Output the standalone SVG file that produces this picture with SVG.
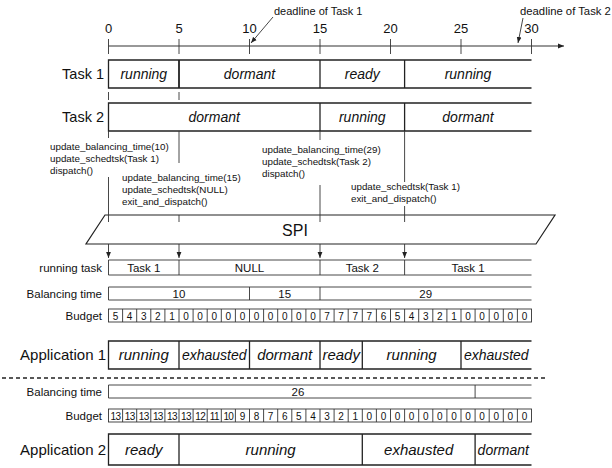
<svg xmlns="http://www.w3.org/2000/svg" width="612" height="468" viewBox="0 0 612 468">
<defs>
<marker id="ah" viewBox="0 0 10 10" refX="10" refY="5" markerWidth="6" markerHeight="6" orient="auto-start-reverse" markerUnits="userSpaceOnUse">
<path d="M0,1 L10,5 L0,9 z" fill="#222"/>
</marker>
<style>
text{font-family:"Liberation Sans",Arial,sans-serif;fill:#111}
.lbl{font-size:14.5px}
.app{font-size:15px}
.st{font-size:14px;font-style:italic;text-anchor:middle}
.st15{font-size:15px;font-style:italic;text-anchor:middle}
.sm{font-size:11.5px}
.c{text-anchor:middle}
.e{text-anchor:end}
.code{font-size:9.8px}
.num{font-size:10px;text-anchor:middle}
.ax{font-size:13px;text-anchor:middle}
.row{fill:none;stroke:#222;stroke-width:1.3}
.div{stroke:#222;stroke-width:1.3}
.thin{stroke:#333;stroke-width:0.9;fill:none}
.guide{stroke:#333;stroke-width:0.9}
.cell{fill:none;stroke:#333;stroke-width:0.9}
</style>
</defs>

<g id="axis">
<line class="thin" x1="108.5" y1="46" x2="564" y2="46" marker-end="url(#ah)" style="stroke-width:1.1"/>
<g class="guide">
<line x1="108.5" y1="39" x2="108.5" y2="54"/>
<line x1="179" y1="39" x2="179" y2="54"/>
<line x1="249.5" y1="39" x2="249.5" y2="54"/>
<line x1="320" y1="39" x2="320" y2="54"/>
<line x1="390.5" y1="39" x2="390.5" y2="54"/>
<line x1="461" y1="39" x2="461" y2="54"/>
<line x1="531.5" y1="39" x2="531.5" y2="54"/>
</g>
<text class="ax" x="108.5" y="33">0</text>
<text class="ax" x="179" y="33">5</text>
<text class="ax" x="249.5" y="33">10</text>
<text class="ax" x="320" y="33">15</text>
<text class="ax" x="390.5" y="33">20</text>
<text class="ax" x="461" y="33">25</text>
<text class="ax" x="531.5" y="33">30</text>
</g>

<g id="deadline1">
<text class="sm" x="274" y="15" style="font-size:11px">deadline of Task 1</text>
<line class="thin" x1="273" y1="17" x2="251" y2="43" marker-end="url(#ah)"/>
</g>
<g id="deadline2">
<text class="sm" x="520" y="15" style="font-size:11.3px">deadline of Task 2</text>
<line class="thin" x1="523" y1="18" x2="518" y2="43" marker-end="url(#ah)"/>
</g>

<g id="task1">
<text class="lbl e" x="104" y="79">Task 1</text>
<path class="row" d="M531.5,60 H108.5 V88 H531.5"/>
<line class="div" x1="179" y1="60" x2="179" y2="88" style="stroke-width:1.8"/>
<line class="div" x1="320" y1="60" x2="320" y2="88"/>
<line class="div" x1="404.6" y1="60" x2="404.6" y2="88"/>
<text class="st" x="143.8" y="79">running</text>
<text class="st" x="249.5" y="79">dormant</text>
<text class="st" x="362.3" y="79">ready</text>
<text class="st" x="468" y="79">running</text>
</g>

<g id="task2">
<text class="lbl e" x="104" y="122">Task 2</text>
<path class="row" d="M531.5,103 H108.5 V131 H531.5"/>
<line class="div" x1="320" y1="103" x2="320" y2="131"/>
<line class="div" x1="404.6" y1="103" x2="404.6" y2="131"/>
<text class="st" x="214.2" y="122">dormant</text>
<text class="st" x="362.3" y="122">running</text>
<text class="st" x="468" y="122">dormant</text>
</g>

<g id="calls1">
<text class="code" x="50" y="149.5">update_balancing_time(10)</text>
<text class="code" x="50" y="161.5">update_schedtsk(Task 1)</text>
<text class="code" x="50" y="173.5">dispatch()</text>
</g>
<g id="calls2">
<text class="code" x="122" y="181">update_balancing_time(15)</text>
<text class="code" x="122" y="193">update_schedtsk(NULL)</text>
<text class="code" x="122" y="205">exit_and_dispatch()</text>
</g>
<g id="calls3">
<text class="code" x="262" y="153">update_balancing_time(29)</text>
<text class="code" x="262" y="165">update_schedtsk(Task 2)</text>
<text class="code" x="262" y="177">dispatch()</text>
</g>
<g id="calls4">
<text class="code" x="351" y="190">update_schedtsk(Task 1)</text>
<text class="code" x="351" y="202">exit_and_dispatch()</text>
</g>

<g id="spi">
<path class="row" d="M105,215 H555 L536,244 H86 Z" style="stroke-width:1.2"/>
<text class="c" x="295" y="236" style="font-size:16px">SPI</text>
</g>

<g id="connectors">
<g class="guide">
<line x1="108.5" y1="92" x2="108.5" y2="100"/>
<line x1="179" y1="92" x2="179" y2="100"/>
<line x1="108.5" y1="131" x2="108.5" y2="138"/>
<line x1="108.5" y1="177" x2="108.5" y2="222"/>
<line x1="179" y1="131" x2="179" y2="163"/>
<line x1="179" y1="215" x2="179" y2="222"/>
<line x1="320" y1="131" x2="320" y2="140"/>
<line x1="320" y1="185" x2="320" y2="222"/>
<line x1="404.6" y1="131" x2="404.6" y2="182"/>
<line x1="404.6" y1="206" x2="404.6" y2="222"/>
</g>
<g class="thin">
<line x1="108.5" y1="244" x2="108.5" y2="258" marker-end="url(#ah)"/>
<line x1="179" y1="244" x2="179" y2="258" marker-end="url(#ah)"/>
<line x1="320" y1="244" x2="320" y2="258" marker-end="url(#ah)"/>
<line x1="404.6" y1="244" x2="404.6" y2="258" marker-end="url(#ah)"/>
</g>
</g>

<g id="running-task">
<text class="sm e" x="102" y="272">running task</text>
<path class="thin" d="M531.5,260 H108.5 V275 H531.5"/>
<line class="guide" x1="179" y1="260" x2="179" y2="275"/>
<line class="guide" x1="320" y1="260" x2="320" y2="275"/>
<line class="guide" x1="404.6" y1="260" x2="404.6" y2="275"/>
<text class="sm c" x="143.8" y="272">Task 1</text>
<text class="sm c" x="249.5" y="272">NULL</text>
<text class="sm c" x="362.3" y="272">Task 2</text>
<text class="sm c" x="468" y="272">Task 1</text>
</g>

<g id="balancing1">
<text class="sm e" x="102" y="298">Balancing time</text>
<path class="thin" d="M531.5,287 H108.5 V300 H531.5"/>
<line class="guide" x1="249.5" y1="287" x2="249.5" y2="300"/>
<line class="guide" x1="320" y1="287" x2="320" y2="300"/>
<text class="sm c" x="179" y="298">10</text>
<text class="sm c" x="284.7" y="298">15</text>
<text class="sm c" x="425.7" y="298">29</text>
</g>

<g id="budget1">
<text class="sm e" x="102" y="320">Budget</text>
<rect class="cell" x="108.5" y="309" width="423" height="13"/>
<path class="guide" d="M122.6,309V322M136.7,309V322M150.8,309V322M164.9,309V322M179,309V322M193.1,309V322M207.2,309V322M221.3,309V322M235.4,309V322M249.5,309V322M263.6,309V322M277.7,309V322M291.8,309V322M305.9,309V322M320,309V322M334.1,309V322M348.2,309V322M362.3,309V322M376.4,309V322M390.5,309V322M404.6,309V322M418.7,309V322M432.8,309V322M446.9,309V322M461,309V322M475.1,309V322M489.2,309V322M503.3,309V322M517.4,309V322"/>
<text class="num" x="115.55" y="319.5">5</text>
<text class="num" x="129.65" y="319.5">4</text>
<text class="num" x="143.75" y="319.5">3</text>
<text class="num" x="157.85" y="319.5">2</text>
<text class="num" x="171.95" y="319.5">1</text>
<text class="num" x="186.05" y="319.5">0</text>
<text class="num" x="200.15" y="319.5">0</text>
<text class="num" x="214.25" y="319.5">0</text>
<text class="num" x="228.35" y="319.5">0</text>
<text class="num" x="242.45" y="319.5">0</text>
<text class="num" x="256.55" y="319.5">0</text>
<text class="num" x="270.65" y="319.5">0</text>
<text class="num" x="284.75" y="319.5">0</text>
<text class="num" x="298.85" y="319.5">0</text>
<text class="num" x="312.95" y="319.5">0</text>
<text class="num" x="327.05" y="319.5">7</text>
<text class="num" x="341.15" y="319.5">7</text>
<text class="num" x="355.25" y="319.5">7</text>
<text class="num" x="369.35" y="319.5">7</text>
<text class="num" x="383.45" y="319.5">6</text>
<text class="num" x="397.55" y="319.5">5</text>
<text class="num" x="411.65" y="319.5">4</text>
<text class="num" x="425.75" y="319.5">3</text>
<text class="num" x="439.85" y="319.5">2</text>
<text class="num" x="453.95" y="319.5">1</text>
<text class="num" x="468.05" y="319.5">0</text>
<text class="num" x="482.15" y="319.5">0</text>
<text class="num" x="496.25" y="319.5">0</text>
<text class="num" x="510.35" y="319.5">0</text>
<text class="num" x="524.45" y="319.5">0</text>
</g>

<g id="application1">
<text class="app e" x="106" y="360">Application 1</text>
<path class="row" d="M531.5,341 H108.5 V369 H531.5"/>
<line class="div" x1="179" y1="341" x2="179" y2="369"/>
<line class="div" x1="249.5" y1="341" x2="249.5" y2="369"/>
<line class="div" x1="320" y1="341" x2="320" y2="369"/>
<line class="div" x1="362.3" y1="341" x2="362.3" y2="369"/>
<line class="div" x1="461" y1="341" x2="461" y2="369"/>
<text class="st15" x="143.8" y="360">running</text>
<text class="st" x="214.2" y="360">exhausted</text>
<text class="st15" x="284.7" y="360">dormant</text>
<text class="st15" x="341.2" y="360">ready</text>
<text class="st15" x="411.6" y="360">running</text>
<text class="st" x="496.3" y="360">exhausted</text>
</g>

<line id="separator" x1="2" y1="378" x2="547" y2="378" stroke="#222" stroke-width="1.5" stroke-dasharray="4 3"/>

<g id="balancing2">
<text class="sm e" x="102" y="396">Balancing time</text>
<path class="thin" d="M531.5,385 H108.5 V398 H531.5"/>
<line class="guide" x1="475.1" y1="385" x2="475.1" y2="398"/>
<text class="sm c" x="298" y="396">26</text>
</g>

<g id="budget2">
<text class="sm e" x="102" y="420">Budget</text>
<rect class="cell" x="108.5" y="409" width="423" height="13"/>
<path class="guide" d="M122.6,409V422M136.7,409V422M150.8,409V422M164.9,409V422M179,409V422M193.1,409V422M207.2,409V422M221.3,409V422M235.4,409V422M249.5,409V422M263.6,409V422M277.7,409V422M291.8,409V422M305.9,409V422M320,409V422M334.1,409V422M348.2,409V422M362.3,409V422M376.4,409V422M390.5,409V422M404.6,409V422M418.7,409V422M432.8,409V422M446.9,409V422M461,409V422M475.1,409V422M489.2,409V422M503.3,409V422M517.4,409V422"/>
<g style="letter-spacing:-0.6px">
<text class="num" x="115.55" y="419.5">13</text>
<text class="num" x="129.65" y="419.5">13</text>
<text class="num" x="143.75" y="419.5">13</text>
<text class="num" x="157.85" y="419.5">13</text>
<text class="num" x="171.95" y="419.5">13</text>
<text class="num" x="186.05" y="419.5">13</text>
<text class="num" x="200.15" y="419.5">12</text>
<text class="num" x="214.25" y="419.5">11</text>
<text class="num" x="228.35" y="419.5">10</text>
</g>
<text class="num" x="242.45" y="419.5">9</text>
<text class="num" x="256.55" y="419.5">8</text>
<text class="num" x="270.65" y="419.5">7</text>
<text class="num" x="284.75" y="419.5">6</text>
<text class="num" x="298.85" y="419.5">5</text>
<text class="num" x="312.95" y="419.5">4</text>
<text class="num" x="327.05" y="419.5">3</text>
<text class="num" x="341.15" y="419.5">2</text>
<text class="num" x="355.25" y="419.5">1</text>
<text class="num" x="369.35" y="419.5">0</text>
<text class="num" x="383.45" y="419.5">0</text>
<text class="num" x="397.55" y="419.5">0</text>
<text class="num" x="411.65" y="419.5">0</text>
<text class="num" x="425.75" y="419.5">0</text>
<text class="num" x="439.85" y="419.5">0</text>
<text class="num" x="453.95" y="419.5">0</text>
<text class="num" x="468.05" y="419.5">0</text>
<text class="num" x="482.15" y="419.5">0</text>
<text class="num" x="496.25" y="419.5">0</text>
<text class="num" x="510.35" y="419.5">0</text>
<text class="num" x="524.45" y="419.5">0</text>
</g>

<g id="application2">
<text class="app e" x="106" y="455">Application 2</text>
<path class="row" d="M531.5,434 H108.5 V465 H531.5"/>
<line class="div" x1="179" y1="434" x2="179" y2="465"/>
<line class="div" x1="362.3" y1="434" x2="362.3" y2="465"/>
<line class="div" x1="475.1" y1="434" x2="475.1" y2="465"/>
<text class="st15" x="143.8" y="455">ready</text>
<text class="st15" x="270.6" y="455">running</text>
<text class="st15" x="418.7" y="455">exhausted</text>
<text class="st" x="503.3" y="455">dormant</text>
</g>
</svg>
